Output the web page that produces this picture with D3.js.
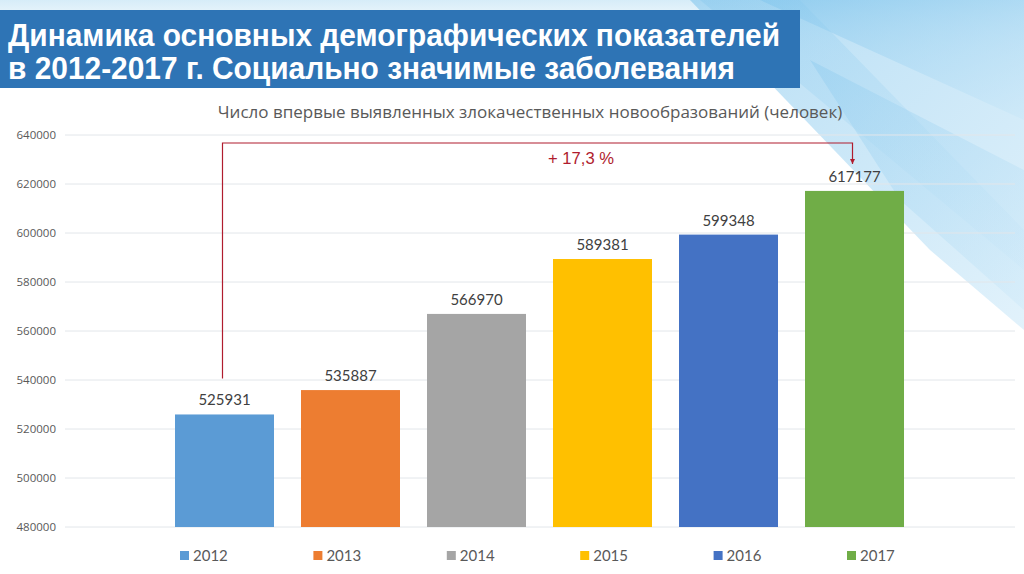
<!DOCTYPE html>
<html lang="ru">
<head>
<meta charset="utf-8">
<title>Динамика</title>
<style>
  html, body { margin: 0; padding: 0; background: #fff; }
  svg { display: block; }
</style>
<script src="https://cdn.jsdelivr.net/npm/d3@7"></script>
</head>
<body>
<svg id="chart" width="1024" height="574"></svg>
<script>
// data
var years = ["2012", "2013", "2014", "2015", "2016", "2017"];
var cases = [525931, 535887, 566970, 589381, 599348, 617177];
var barColors = ["#5B9BD5", "#ED7D31", "#A5A5A5", "#FFC000", "#4472C4", "#70AD47"];
var yTicks = [480000, 500000, 520000, 540000, 560000, 580000, 600000, 620000, 640000];
var titleLines = ["Динамика основных демографических показателей",
                  "в 2012-2017 г. Социально значимые заболевания"];
var subtitle = "Число впервые выявленных злокачественных новообразований (человек)";
var growthLabel = "+ 17,3 %";

var svg = d3.select("#chart");
var W = 1024, H = 574;

// background: white with light blue streaks top right
var defs = svg.append("defs");
var g1 = defs.append("linearGradient").attr("id", "topFade")
  .attr("x1", 0).attr("y1", 0).attr("x2", 0).attr("y2", 1);
g1.append("stop").attr("offset", 0).attr("stop-color", "#d6ecf8");
g1.append("stop").attr("offset", 1).attr("stop-color", "#ffffff").attr("stop-opacity", 0);
var g2 = defs.append("linearGradient").attr("id", "streak")
  .attr("x1", 0).attr("y1", 0).attr("x2", 1).attr("y2", 1);
g2.append("stop").attr("offset", 0).attr("stop-color", "#7cc3ec");
g2.append("stop").attr("offset", 1).attr("stop-color", "#c9e7f8");

svg.append("rect").attr("width", W).attr("height", H).attr("fill", "#ffffff");
svg.append("rect").attr("width", W).attr("height", 60).attr("fill", "url(#topFade)");

var streaks = [
  [[690, 0], [1024, 0], [1024, 330], [930, 250]],
  [[760, 0], [1024, 0], [1024, 120]],
  [[810, 60], [1024, 170], [1024, 310], [900, 200]],
  [[700, 0], [800, 0], [1024, 230], [1024, 270]]
];
var streakOp = [0.55, 0.5, 0.35, 0.3];
svg.append("g").selectAll("path").data(streaks).join("path")
  .attr("d", function(d) { return "M" + d.join("L") + "Z"; })
  .attr("fill", "url(#streak)")
  .attr("opacity", function(d, i) { return streakOp[i]; });

// scales
var x = d3.scaleBand().domain(years).range([161.5, 917.5])
  .paddingInner(0.2143).paddingOuter(0.1071);
var y = d3.scaleLinear().domain([480000, 640000]).range([527, 135]);

// gridlines
svg.append("g").selectAll("line").data(yTicks).join("line")
  .attr("x1", 65).attr("x2", 1015)
  .attr("y1", function(d) { return y(d); })
  .attr("y2", function(d) { return y(d); })
  .attr("stroke", "#e2e6ea").attr("stroke-width", 1);

// y axis labels
var yAxis = svg.append("g").attr("transform", "translate(58,0)")
  .call(d3.axisLeft(y).tickValues(yTicks).tickSize(0).tickPadding(2).tickFormat(d3.format("d")));
yAxis.select(".domain").remove();
yAxis.selectAll("text")
  .attr("fill", "#595959")
  .style("font-family", "'Open Sans', sans-serif")
  .style("font-size", "11.5px");

// bars
svg.append("g").selectAll("rect").data(cases).join("rect")
  .attr("x", function(d, i) { return x(years[i]); })
  .attr("y", function(d) { return y(d); })
  .attr("width", x.bandwidth())
  .attr("height", function(d) { return y(480000) - y(d); })
  .attr("fill", function(d, i) { return barColors[i]; });

// value labels
svg.append("g").selectAll("text").data(cases).join("text")
  .attr("x", function(d, i) { return x(years[i]) + x.bandwidth() / 2; })
  .attr("y", function(d) { return y(d) - 9; })
  .attr("text-anchor", "middle")
  .attr("fill", "#404040")
  .style("font-family", "Lato, sans-serif")
  .style("font-size", "15px")
  .text(function(d) { return d; });

// growth annotation
var xa = x(years[0]) + x.bandwidth() / 2 - 2;
var xb = x(years[5]) + x.bandwidth() / 2 - 2;
var ya = 143;
defs.append("marker").attr("id", "arrow").attr("viewBox", "0 0 10 10")
  .attr("refX", 10).attr("refY", 5).attr("markerWidth", 7).attr("markerHeight", 5)
  .attr("markerUnits", "userSpaceOnUse").attr("orient", "auto")
  .append("path").attr("d", "M0,0L10,5L0,10Z").attr("fill", "#b01c2e");
svg.append("path")
  .attr("d", "M" + xa + "," + (y(cases[0]) - 36) + "V" + ya + "H" + xb + "V" + 164)
  .attr("fill", "none").attr("stroke", "#b01c2e").attr("stroke-width", 1.2)
  .attr("marker-end", "url(#arrow)");
svg.append("text")
  .attr("x", 548).attr("y", 164)
  .attr("fill", "#b01c2e")
  .attr("textLength", 66).attr("lengthAdjust", "spacingAndGlyphs")
  .style("font-family", "'Liberation Sans', Arial, sans-serif")
  .style("font-size", "17px")
  .text(growthLabel);

// subtitle
svg.append("text")
  .attr("x", 530).attr("y", 118)
  .attr("text-anchor", "middle")
  .attr("fill", "#595959")
  .style("font-family", "'Open Sans', sans-serif")
  .style("font-size", "17px")
  .text(subtitle);

// title box
svg.append("rect").attr("x", 0).attr("y", 10).attr("width", 800).attr("height", 78)
  .attr("fill", "#2e74b5");
var titleWidths = [772, 727];
svg.append("g").selectAll("text").data(titleLines).join("text")
  .attr("x", 8)
  .attr("y", function(d, i) { return 46 + i * 33; })
  .attr("fill", "#ffffff")
  .attr("textLength", function(d, i) { return titleWidths[i]; })
  .attr("lengthAdjust", "spacingAndGlyphs")
  .style("font-family", "'Liberation Sans', Arial, sans-serif")
  .style("font-weight", "bold")
  .style("font-size", "32px")
  .text(function(d) { return d; });

// legend
var legend = svg.append("g").selectAll("g").data(years).join("g")
  .attr("transform", function(d, i) { return "translate(" + (180 + i * 133.4) + ",551)"; });
legend.append("rect").attr("width", 9).attr("height", 9)
  .attr("fill", function(d, i) { return barColors[i]; });
legend.append("text").attr("x", 13).attr("y", 10)
  .attr("fill", "#595959")
  .style("font-family", "Lato, sans-serif")
  .style("font-size", "15px")
  .text(function(d) { return d; });
</script>
</body>
</html>
